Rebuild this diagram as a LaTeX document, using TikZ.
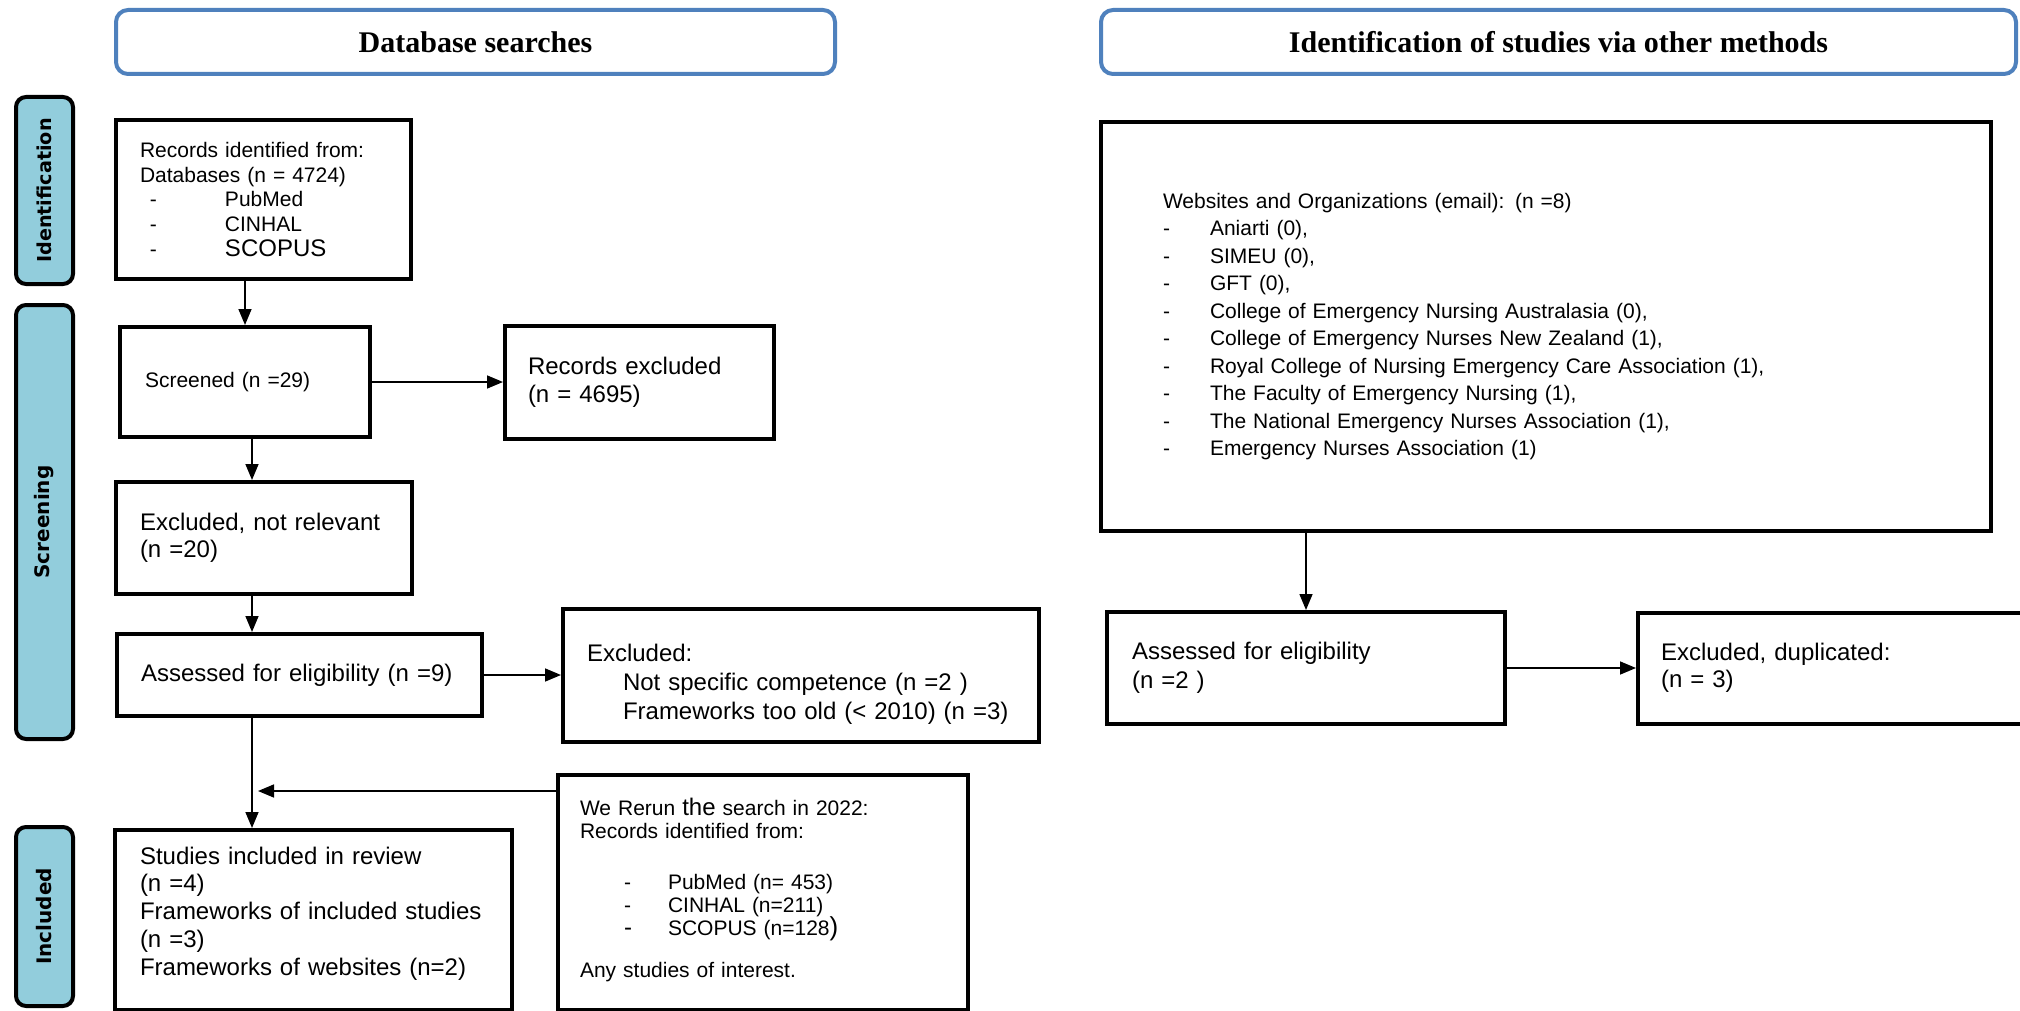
\documentclass[tikz,border=0pt]{standalone}
\usepackage{fontspec}
\setmainfont{Liberation Sans}
\newfontfamily\headfont{Liberation Serif}
\newfontfamily\sidefont{DejaVu Sans}
\usetikzlibrary{arrows,arrows.meta,positioning}

\definecolor{sidefill}{RGB}{146,205,220}
\definecolor{headblue}{RGB}{79,129,189}

\newcommand{\setfs}[2]{\fontsize{#1}{#2}\selectfont}
\newcommand{\dashitem}[3]{\makebox[#2][l]{\hspace*{#1}-}#3}

\begin{document}
\begin{tikzpicture}[->,>={Triangle[length=8pt,width=6.5pt]},x=0.5pt,y=-0.5pt,line width=0.8pt]
\tikzstyle{every node}=[inner ysep=0pt]
\tikzstyle{box}=[draw,line width=2pt,anchor=north west,align=left,inner xsep=12pt]
\tikzstyle{head}=[draw=headblue,fill=white,line width=2pt,rounded corners=6pt,minimum height=32pt,font=\headfont\bfseries\setfs{15}{18}]
\tikzstyle{side}=[draw,fill=sidefill,line width=2pt,rounded corners=5pt,rotate=90,minimum height=28.5pt,font=\sidefont\bfseries\setfs{10}{12}]

\path[use as bounding box,fill=white] (0,0) rectangle (2020,1011);

% phase headers
\node [head,minimum width=359.5pt] (dbhead) at (475.5,42) {Database searches};
\node [head,minimum width=457.5pt] (otherhead) at (1558.5,42) {Identification of studies via other methods};

% side labels
\node [side,minimum width=93.5pt,font=\sidefont\bfseries\setfs{9.6}{11}] (identlab) at (44.5,190.5) {Identification};
\node [side,minimum width=217pt] (screenlab) at (44.5,522) {Screening};
\node [side,minimum width=89.5pt] (inclab) at (44.5,916.5) {Included};

% database branch
\node [box,text width=123.5pt,minimum height=79.5pt,font=\setfs{10.5}{12.3}] (records) at (114,118)
  {Records identified from:\\Databases (n = 4724)\\\dashitem{5pt}{42.5pt}{PubMed}\\\dashitem{5pt}{42.5pt}{CINHAL}\\\dashitem{5pt}{42.5pt}{\setfs{12}{12.3}SCOPUS}};
\node [box,text width=100pt,inner xsep=12.5pt,minimum height=55pt,font=\setfs{10.5}{12.6}] (screened) at (118,325) {Screened (n =29)};
\node [box,text width=111.5pt,inner xsep=11.5pt,minimum height=56.5pt,font=\setfs{12}{14}] [right=65.5pt of screened] (recexcl) {Records excluded\\(n = 4695)};
\node [box,text width=124pt,minimum height=56pt,font=\setfs{12}{13.5}] (notrel) at (114,480) {Excluded, not relevant\\(n =20)};
\node [box,text width=158.5pt,minimum height=41pt,font=\setfs{12}{14}] (assessed) at (115,632) {Assessed for eligibility (n =9)};
\node [box,text width=214pt,minimum height=66.5pt,font=\setfs{12}{14.7}] [right=38.5pt of assessed] (excluded)
  {\rule{0pt}{18pt}Excluded:\\\hspace*{18pt}Not specific competence (n =2 )\\\hspace*{18pt}Frameworks too old (< 2010) (n =3)};
\node [box,text width=173.5pt,inner xsep=12.5pt,minimum height=90pt,font=\setfs{12}{13.9}] (studies) at (113,828)
  {Studies included in review\\(n =4)\\Frameworks of included studies\\(n =3)\\Frameworks of websites (n=2)\rule[-9pt]{0pt}{0pt}};
\node [box,text width=183pt,inner xsep=11pt,minimum height=117.5pt,font=\setfs{10.5}{11.6}] (rerun) at (556,773)
  {We Rerun {\setfs{12}{11.6}the} search in 2022:\\Records identified from:\\[14pt]\dashitem{22pt}{44pt}{PubMed (n= 453)}\\\dashitem{22pt}{44pt}{CINHAL (n=211)}\\\makebox[44pt][l]{\hspace*{22pt}\setfs{12}{11.6}-}SCOPUS (n=128{\setfs{13}{11.6})}\\[9pt]Any studies of interest.\rule[-5pt]{0pt}{0pt}};

% other methods branch
\node [box,text width=383pt,inner xsep=31pt,minimum height=204.5pt,font=\setfs{10.5}{13.75}] (websites) at (1099,120)
  {Websites and Organizations (email): (n =8)\\
   \dashitem{0pt}{23.5pt}{Aniarti (0),}\\
   \dashitem{0pt}{23.5pt}{SIMEU (0),}\\
   \dashitem{0pt}{23.5pt}{GFT (0),}\\
   \dashitem{0pt}{23.5pt}{College of Emergency Nursing Australasia (0),}\\
   \dashitem{0pt}{23.5pt}{College of Emergency Nurses New Zealand (1),}\\
   \dashitem{0pt}{23.5pt}{Royal College of Nursing Emergency Care Association (1),}\\
   \dashitem{0pt}{23.5pt}{The Faculty of Emergency Nursing (1),}\\
   \dashitem{0pt}{23.5pt}{The National Emergency Nurses Association (1),}\\
   \dashitem{0pt}{23.5pt}{Emergency Nurses Association (1)}};
\node [box,text width=174pt,inner xsep=12.5pt,minimum height=56pt,font=\setfs{12}{14.5}] (assessedb) at (1105,610) {Assessed for eligibility\\(n =2 )};
\node [box,text width=183.5pt,inner xsep=11.5pt,minimum height=55.5pt,font=\setfs{12}{13.5}] [right=64.5pt of assessedb] (dupl) {Excluded, duplicated:\\(n = 3)};

\coordinate (spine) at (252,0);
\coordinate (join) at (258,791);

\path (records.south -| screened.north) edge (screened.north)
      (screened.south -| spine) edge (notrel.north -| spine)
      (notrel.south -| spine) edge (assessed.north -| spine)
      (assessed.south -| spine) edge (studies.north -| spine)
      (rerun.west |- join) edge (join)
      (screened.east) edge (screened.east -| recexcl.west)
      (assessed.east) edge (assessed.east -| excluded.west)
      (assessedb.north |- websites.south) edge (assessedb.north)
      (assessedb.east) edge (assessedb.east -| dupl.west);

\end{tikzpicture}
\end{document}
